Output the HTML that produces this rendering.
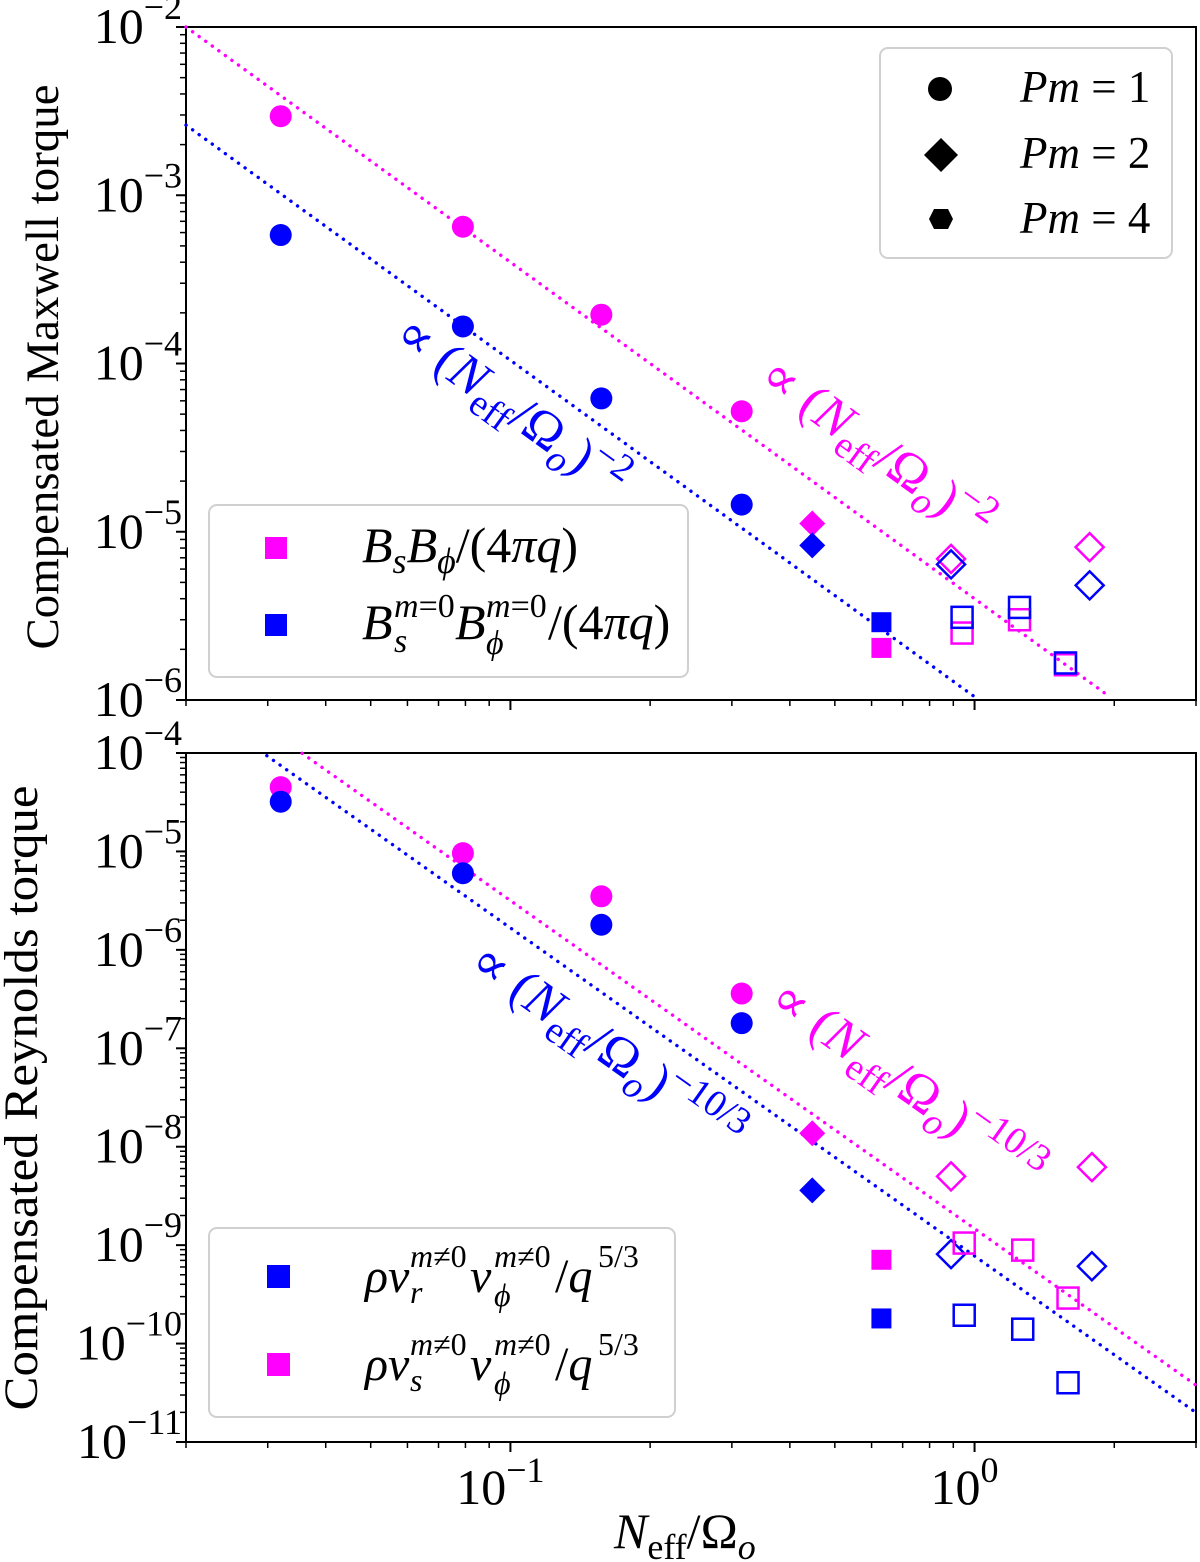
<!DOCTYPE html>
<html><head><meta charset="utf-8">
<style>
html,body{margin:0;padding:0;background:#fff;}
svg{display:block;font-family:"Liberation Serif","DejaVu Serif",serif;}
</style></head>
<body>
<svg id="chart" width="1200" height="1562" viewBox="0 0 1200 1562" xmlns="http://www.w3.org/2000/svg">
<g id="g-top"></g>
<g id="g-bot"></g>
</svg>
<script>
// ---- data ----
const topMagCircX = [0.032, 0.079, 0.157, 0.315];
const topMagCircY = [2.95e-3, 6.5e-4, 1.95e-4, 5.2e-5];
const topBluCircX = [0.032, 0.079, 0.157, 0.315];
const topBluCircY = [5.8e-4, 1.66e-4, 6.2e-5, 1.45e-5];
const topMagDiaX = [0.447]; const topMagDiaY = [1.12e-5];
const topBluDiaX = [0.447]; const topBluDiaY = [8.3e-6];
const topMagSqX = [0.63]; const topMagSqY = [2.04e-6];
const topBluSqX = [0.63]; const topBluSqY = [2.9e-6];
const topMagODiaX = [0.89, 1.77]; const topMagODiaY = [6.9e-6, 8.1e-6];
const topBluODiaX = [0.89, 1.77]; const topBluODiaY = [6.4e-6, 4.8e-6];
const topMagOSqX = [0.94, 1.25, 1.57]; const topMagOSqY = [2.5e-6, 3.0e-6, 1.62e-6];
const topBluOSqX = [0.94, 1.25, 1.57]; const topBluOSqY = [3.1e-6, 3.55e-6, 1.66e-6];
const topFitMag = [4.0e-6, -2];
const topFitBlu = [1.045e-6, -2];

const botMagCircX = [0.032, 0.079, 0.157, 0.315];
const botMagCircY = [4.5e-5, 9.6e-6, 3.5e-6, 3.6e-7];
const botBluCircX = [0.032, 0.079, 0.157, 0.315];
const botBluCircY = [3.2e-5, 6.0e-6, 1.8e-6, 1.8e-7];
const botMagDiaX = [0.447]; const botMagDiaY = [1.37e-8];
const botBluDiaX = [0.447]; const botBluDiaY = [3.6e-9];
const botMagSqX = [0.63]; const botMagSqY = [7.1e-10];
const botBluSqX = [0.63]; const botBluSqY = [1.8e-10];
const botMagODiaX = [0.89, 1.79]; const botMagODiaY = [5.0e-9, 6.2e-9];
const botBluODiaX = [0.89, 1.79]; const botBluODiaY = [8.1e-10, 6.1e-10];
const botMagOSqX = [0.95, 1.27, 1.59]; const botMagOSqY = [1.05e-9, 8.9e-10, 2.9e-10];
const botBluOSqX = [0.95, 1.27, 1.59]; const botBluOSqY = [1.94e-10, 1.4e-10, 4.0e-11];
const botFitMag = [0.0355, 1e-4, -10/3];
const botFitBlu = [0.0293, 1e-4, -10/3];

const xTickExp = [-1, 0];
const topYExp = [-2, -3, -4, -5, -6];
const botYExp = [-4, -5, -6, -7, -8, -9, -10, -11];

// ---- scales ----
const XL = 186, XR = 1196, XMIN = Math.log10(0.02), XMAX = Math.log10(3.0);
function sx(v){ return XL + (Math.log10(v) - XMIN) / (XMAX - XMIN) * (XR - XL); }
function mkY(top, bot, emax, emin){ return v => top + (emax - Math.log10(v)) / (emax - emin) * (bot - top); }
const P = {
  top: {g: document.getElementById('g-top'), top: 27, bot: 700, emax: -2, emin: -6},
  bot: {g: document.getElementById('g-bot'), top: 753, bot: 1442, emax: -4, emin: -11}
};
P.top.sy = mkY(27, 700, -2, -6);
P.bot.sy = mkY(753, 1442, -4, -11);
const NS = 'http://www.w3.org/2000/svg';
const MAG = '#ff00ff', BLU = '#0000ff';
function el(tag, attrs, parent){ const e = document.createElementNS(NS, tag); for (const k in attrs) e.setAttribute(k, attrs[k]); parent.appendChild(e); return e; }

function drawAxes(p, showXLabels){
  const g = p.g;
  const ax = el('g', {}, g);
  
  
  el('rect', {x: XL, y: p.top, width: XR - XL, height: p.bot - p.top, fill: 'none', stroke: '#000', 'stroke-width': 2}, ax);
  for (let e = -2; e <= 0; e++) for (let m = 1; m <= 9; m++) {
    const v = m * Math.pow(10, e); if (v < 0.02 || v > 3.0) continue;
    const x = sx(v); const major = (m === 1);
    el('line', {x1: x, x2: x, y1: p.bot, y2: p.bot + (major ? 10 : 6), stroke: '#000', 'stroke-width': major ? 2 : 1.5}, ax);
  }
  if (showXLabels) xTickExp.forEach(e => {
    const t = el('text', {x: sx(Math.pow(10, e)) - 10, y: p.bot + 62, 'font-size': 50, 'text-anchor': 'middle'}, ax);
    
    
    t.innerHTML = '10<tspan dy="-22" font-size="36">' + (e < 0 ? '−' + (-e) : e) + '</tspan>';
  });
  for (let e = p.emin; e <= p.emax; e++) for (let m = 1; m <= 9; m++) {
    const v = m * Math.pow(10, e); if (Math.log10(v) > p.emax + 1e-9) continue;
    const y = p.sy(v); const major = (m === 1);
    el('line', {x1: XL, x2: XL - (major ? 10 : 6), y1: y, y2: y, stroke: '#000', 'stroke-width': major ? 2 : 1.5}, ax);
  }
  const yexp = p === P.top ? topYExp : botYExp;
  yexp.forEach(e => {
    const t = el('text', {x: 182, y: p.sy(Math.pow(10, e)) + 16, 'font-size': 50, 'text-anchor': 'end'}, ax);
    
    
    t.innerHTML = '10<tspan dy="-24" font-size="36">−' + (-e) + '</tspan>';
  });
}

function fitLine(p, fn, color, name){
  const pts = [];
  for (let i = 0; i <= 200; i++) {
    const lx = XMIN + (XMAX - XMIN) * i / 200; const x = Math.pow(10, lx);
    const y = fn(x); const py = p.sy(y);
    if (py < p.top || py > p.bot) continue;
    pts.push(sx(x).toFixed(1) + ',' + py.toFixed(1));
  }
  const l = el('polyline', {points: pts.join(' '), fill: 'none', stroke: color, 'stroke-width': 3.4, 'stroke-dasharray': '0.1 8', 'stroke-linecap': 'round'}, p.g);
  
  
}

function marks(p, xs, ys, shape, color, filled, name){
  const g = el('g', {}, p.g);
  
  
  xs.forEach((xv, i) => {
    const x = sx(xv), y = p.sy(ys[i]);
    const st = filled ? {fill: color} : {fill: 'none', stroke: color, 'stroke-width': 2.5};
    let m;
    if (shape === 'c') m = el('circle', Object.assign({cx: x, cy: y, r: 11}, st), g);
    else if (shape === 'd') { const r = filled ? 13 : 14; m = el('polygon', Object.assign({points: `${x},${y-r} ${x+r},${y} ${x},${y+r} ${x-r},${y}`}, st), g); }
    else { const h = filled ? 10 : 10.5; m = el('rect', Object.assign({x: x - h, y: y - h, width: 2*h, height: 2*h}, st), g); }
    
    
  });
}

drawAxes(P.top, false);
fitLine(P.top, x => topFitMag[0] * Math.pow(x, topFitMag[1]), MAG, 'fit-line-magenta');
fitLine(P.top, x => topFitBlu[0] * Math.pow(x, topFitBlu[1]), BLU, 'fit-line-blue');
marks(P.top, topMagCircX, topMagCircY, 'c', MAG, true, 'bsbphi-pm1');
marks(P.top, topBluCircX, topBluCircY, 'c', BLU, true, 'bsbphi-m0-pm1');
marks(P.top, topMagDiaX, topMagDiaY, 'd', MAG, true, 'bsbphi-pm2');
marks(P.top, topBluDiaX, topBluDiaY, 'd', BLU, true, 'bsbphi-m0-pm2');
marks(P.top, topMagSqX, topMagSqY, 's', MAG, true, 'bsbphi-pm4');
marks(P.top, topBluSqX, topBluSqY, 's', BLU, true, 'bsbphi-m0-pm4');
marks(P.top, topMagODiaX, topMagODiaY, 'd', MAG, false, 'bsbphi-open-diamond');
marks(P.top, topBluODiaX, topBluODiaY, 'd', BLU, false, 'bsbphi-m0-open-diamond');
marks(P.top, topMagOSqX, topMagOSqY, 's', MAG, false, 'bsbphi-open-square');
marks(P.top, topBluOSqX, topBluOSqY, 's', BLU, false, 'bsbphi-m0-open-square');

drawAxes(P.bot, true);
fitLine(P.bot, x => botFitMag[1] * Math.pow(x / botFitMag[0], botFitMag[2]), MAG, 'fit-line-magenta');
fitLine(P.bot, x => botFitBlu[1] * Math.pow(x / botFitBlu[0], botFitBlu[2]), BLU, 'fit-line-blue');
marks(P.bot, botMagCircX, botMagCircY, 'c', MAG, true, 'rvsvphi-pm1');
marks(P.bot, botBluCircX, botBluCircY, 'c', BLU, true, 'rvrvphi-pm1');
marks(P.bot, botMagDiaX, botMagDiaY, 'd', MAG, true, 'rvsvphi-pm2');
marks(P.bot, botBluDiaX, botBluDiaY, 'd', BLU, true, 'rvrvphi-pm2');
marks(P.bot, botMagSqX, botMagSqY, 's', MAG, true, 'rvsvphi-pm4');
marks(P.bot, botBluSqX, botBluSqY, 's', BLU, true, 'rvrvphi-pm4');
marks(P.bot, botMagODiaX, botMagODiaY, 'd', MAG, false, 'rvsvphi-open-diamond');
marks(P.bot, botBluODiaX, botBluODiaY, 'd', BLU, false, 'rvrvphi-open-diamond');
marks(P.bot, botMagOSqX, botMagOSqY, 's', MAG, false, 'rvsvphi-open-square');
marks(P.bot, botBluOSqX, botBluOSqY, 's', BLU, false, 'rvrvphi-open-square');
</script>
<svg style="position:absolute;left:0;top:0" width="1200" height="1562" viewBox="0 0 1200 1562" xmlns="http://www.w3.org/2000/svg" font-family="Liberation Serif, DejaVu Serif, serif">
  <text transform="translate(58,367) rotate(-90)" font-size="47" text-anchor="middle" textLength="565" lengthAdjust="spacingAndGlyphs">Compensated Maxwell torque</text>
  <text transform="translate(37,1098) rotate(-90)" font-size="48" text-anchor="middle" textLength="625" lengthAdjust="spacingAndGlyphs">Compensated Reynolds torque</text>
  <text x="614" y="1548" font-size="50"><tspan font-style="italic">N</tspan><tspan dy="11" font-size="36">eff</tspan><tspan dy="-11">/Ω</tspan><tspan dy="11" font-size="36" font-style="italic">o</tspan></text>

  <text transform="translate(392,340) rotate(35.9)" font-size="52" fill="#0000ff">∝ (<tspan font-style="italic">N</tspan><tspan dy="12" font-size="38">eff</tspan><tspan dy="-12">/Ω</tspan><tspan dy="12" font-size="38" font-style="italic">o</tspan><tspan dy="-12">)</tspan><tspan dy="-20" font-size="38">−2</tspan></text>
  <text transform="translate(757,382) rotate(35.9)" font-size="52" fill="#ff00ff">∝ (<tspan font-style="italic">N</tspan><tspan dy="12" font-size="38">eff</tspan><tspan dy="-12">/Ω</tspan><tspan dy="12" font-size="38" font-style="italic">o</tspan><tspan dy="-12">)</tspan><tspan dy="-20" font-size="38">−2</tspan></text>
  <text transform="translate(467,968) rotate(35.2)" font-size="52" fill="#0000ff">∝ (<tspan font-style="italic">N</tspan><tspan dy="12" font-size="38">eff</tspan><tspan dy="-12">/Ω</tspan><tspan dy="12" font-size="38" font-style="italic">o</tspan><tspan dy="-12">)</tspan><tspan dy="-20" font-size="38">−10/3</tspan></text>
  <text transform="translate(767,1005) rotate(35.2)" font-size="52" fill="#ff00ff">∝ (<tspan font-style="italic">N</tspan><tspan dy="12" font-size="38">eff</tspan><tspan dy="-12">/Ω</tspan><tspan dy="12" font-size="38" font-style="italic">o</tspan><tspan dy="-12">)</tspan><tspan dy="-20" font-size="38">−10/3</tspan></text>

  <g>
    <rect x="880" y="48" width="292" height="210" rx="8" fill="#fff" fill-opacity="0.85" stroke="#d0d0d0" stroke-width="2"/>
    <circle cx="940" cy="89" r="12"/>
    <polygon points="941,138 958,155 941,172 924,155"/>
    <polygon points="934,209 948,209 953,219 948,229 934,229 929,219"/>
    <text x="1020" y="102" font-size="45"><tspan font-style="italic">Pm</tspan> = 1</text>
    <text x="1020" y="168" font-size="45"><tspan font-style="italic">Pm</tspan> = 2</text>
    <text x="1020" y="233" font-size="45"><tspan font-style="italic">Pm</tspan> = 4</text>
  </g>

  <g>
    <rect x="209" y="505" width="479" height="172" rx="8" fill="#fff" fill-opacity="0.85" stroke="#d0d0d0" stroke-width="2"/>
    <rect x="265" y="537" width="22" height="22" fill="#ff00ff"/>
    <rect x="265" y="614" width="22" height="22" fill="#0000ff"/>
    <text x="362" y="562" font-size="50"><tspan font-style="italic">B</tspan><tspan dy="11" font-size="36" font-style="italic">s</tspan><tspan dy="-11" font-style="italic">B</tspan><tspan dy="11" font-size="36" font-style="italic">ϕ</tspan><tspan dy="-11">/(4</tspan><tspan font-style="italic">πq</tspan>)</text>
    <g>
      <text x="362" y="639" font-size="50" font-style="italic">B</text>
      <text x="394" y="617" font-size="34" font-style="italic">m<tspan font-style="normal">=0</tspan></text>
      <text x="394" y="652" font-size="34" font-style="italic">s</text>
      <text x="455" y="639" font-size="50" font-style="italic">B</text>
      <text x="486" y="617" font-size="34" font-style="italic">m<tspan font-style="normal">=0</tspan></text>
      <text x="486" y="654" font-size="34" font-style="italic">ϕ</text>
      <text x="548" y="639" font-size="50">/(4<tspan font-style="italic">πq</tspan>)</text>
    </g>
  </g>

  <g>
    <rect x="209" y="1228" width="466" height="189" rx="8" fill="#fff" fill-opacity="0.85" stroke="#d0d0d0" stroke-width="2"/>
    <rect x="267" y="1265" width="23" height="23" fill="#0000ff"/>
    <rect x="267" y="1353" width="23" height="23" fill="#ff00ff"/>
    <g>
      <text x="365" y="1292" font-size="48" font-style="italic">ρv</text>
      <text x="410" y="1267" font-size="32" font-style="italic">m<tspan font-style="normal">≠0</tspan></text>
      <text x="410" y="1303" font-size="32" font-style="italic">r</text>
      <text x="470" y="1292" font-size="48" font-style="italic">v</text>
      <text x="494" y="1267" font-size="32" font-style="italic">m<tspan font-style="normal">≠0</tspan></text>
      <text x="494" y="1306" font-size="32" font-style="italic">ϕ</text>
      <text x="555" y="1292" font-size="48">/<tspan font-style="italic">q</tspan></text>
      <text x="598" y="1267" font-size="32">5/3</text>
    </g>
    <g>
      <text x="365" y="1380" font-size="48" font-style="italic">ρv</text>
      <text x="410" y="1355" font-size="32" font-style="italic">m<tspan font-style="normal">≠0</tspan></text>
      <text x="410" y="1391" font-size="32" font-style="italic">s</text>
      <text x="470" y="1380" font-size="48" font-style="italic">v</text>
      <text x="494" y="1355" font-size="32" font-style="italic">m<tspan font-style="normal">≠0</tspan></text>
      <text x="494" y="1394" font-size="32" font-style="italic">ϕ</text>
      <text x="555" y="1380" font-size="48">/<tspan font-style="italic">q</tspan></text>
      <text x="598" y="1355" font-size="32">5/3</text>
    </g>
  </g>
</svg>
</body></html>
